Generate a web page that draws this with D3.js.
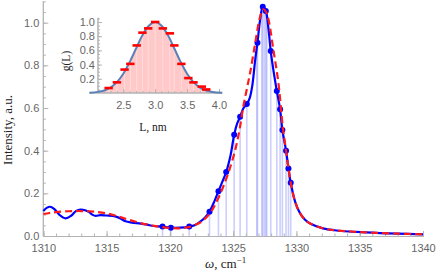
<!DOCTYPE html>
<html><head><meta charset="utf-8">
<script src="https://cdn.jsdelivr.net/npm/d3@7"></script>
<style>
html,body{margin:0;padding:0;background:#fff;}
svg{display:block;}
.tick text{font-family:"Liberation Sans",Arial,sans-serif;font-size:11px;fill:#666;}
</style></head>
<body><svg id="c" width="436" height="276"></svg>
<script>
// ---------- data ----------
const omegaTicks = [1310,1315,1320,1325,1330,1335,1340];
const intensityTicks = [0,0.2,0.4,0.6,0.8,1.0];

// experimental spectrum (blue solid)
const expOmega = [1310.0,1310.3,1310.55,1310.9,1311.3,1311.75,1312.2,1312.6,1312.95,1313.3,1313.6,1313.9,1314.15,1314.5,1315.0,1315.5,1316.0,1316.5,1317.0,1317.7,1318.2,1318.7,1319.42,1320.08,1320.8,1321.53,1322.0,1322.4,1322.8,1323.13,1323.5,1323.84,1324.15,1324.45,1324.8,1325.08,1325.3,1325.55,1325.8,1326.08,1326.3,1326.5,1326.74,1326.92,1327.13,1327.34,1327.58,1327.8,1327.97,1328.18,1328.45,1328.71,1328.89,1329.18,1329.37,1329.55,1329.9,1330.29,1330.7,1331.08,1332.1,1333.0,1335.5,1338.0,1340.0];
const expIntensity = [0.117,0.133,0.137,0.125,0.098,0.083,0.095,0.118,0.124,0.121,0.113,0.099,0.094,0.098,0.096,0.094,0.085,0.069,0.063,0.058,0.053,0.047,0.044,0.039,0.039,0.044,0.052,0.067,0.088,0.114,0.16,0.21,0.255,0.30,0.38,0.475,0.525,0.559,0.598,0.619,0.645,0.70,0.825,0.906,1.013,1.075,1.055,0.966,0.867,0.778,0.68,0.594,0.497,0.40,0.317,0.25,0.16,0.106,0.075,0.059,0.036,0.027,0.017,0.011,0.008];

// model fit (red dashed)
const fitOmega = [1310,1310.5,1311,1312,1313,1314,1315,1316,1317,1318,1319,1320,1320.55,1321,1321.6,1322,1322.4,1322.66,1323,1323.3,1323.6,1324.0,1324.4,1324.7,1325.16,1325.5,1325.8,1326.05,1326.34,1326.74,1327.13,1327.39,1327.6,1327.8,1328.18,1328.58,1328.92,1329.18,1329.37,1329.55,1329.9,1330.29,1330.7,1331.08,1332.1,1333,1335.5,1338,1340];
const fitIntensity = [0.103,0.108,0.112,0.116,0.117,0.114,0.106,0.09,0.072,0.056,0.045,0.038,0.036,0.037,0.043,0.052,0.063,0.075,0.095,0.118,0.15,0.2,0.26,0.31,0.403,0.497,0.606,0.68,0.765,0.903,1.028,1.063,1.05,1.013,0.872,0.716,0.512,0.40,0.32,0.25,0.16,0.106,0.075,0.059,0.036,0.027,0.017,0.011,0.008];

// sampled points (dots + stems)
const dotOmega = [1319.42,1320.08,1321.53,1323.13,1323.84,1324.45,1325.08,1325.55,1326.08,1326.92,1327.34,1327.58,1327.97,1328.45,1328.71,1328.89,1329.18,1329.37,1329.55];
const dotIntensity = [0.044,0.039,0.044,0.114,0.21,0.30,0.475,0.559,0.619,0.906,1.075,1.055,0.867,0.68,0.594,0.497,0.40,0.317,0.25];
const stemOnlyOmega = [1326.87,1327.26,1327.47,1327.66];
const stemOnlyIntensity = [0.885,1.06,1.072,1.03];

// inset: size distribution
const insetLTicks = [2.5,3.0,3.5,4.0];
const insetGTicks = [0.2,0.4,0.6,0.8,1.0];
const curveL = [1.97,2.1,2.2,2.3,2.4,2.5,2.6,2.7,2.8,2.9,3.0,3.1,3.2,3.3,3.4,3.5,3.6,3.7,3.8,3.9,4.05];
const curveG = [0.005,0.016,0.035,0.077,0.153,0.272,0.435,0.626,0.812,0.948,1.0,0.948,0.812,0.626,0.435,0.272,0.153,0.077,0.035,0.014,0.003];
const binL = [2.27,2.40,2.52,2.61,2.71,2.80,2.89,3.00,3.12,3.23,3.30,3.41,3.52,3.60,3.73,3.80];
const binG = [0.07,0.15,0.33,0.41,0.67,0.85,0.91,1.00,0.91,0.84,0.67,0.41,0.21,0.15,0.09,0.05];

// ---------- drawing ----------
const svg = d3.select("#c");
const x = d3.scaleLinear().domain([1310,1340]).range([43.3,423]);
const y = d3.scaleLinear().domain([0,1]).range([236,22.7]);
const axisCol = "#b3b3b3";

function styleAxis(g){
  g.selectAll("path.domain").attr("stroke",axisCol).attr("stroke-width",1);
  g.selectAll(".tick line").attr("stroke",axisCol);
}

// stems
const stems = dotOmega.map((w,i)=>[w,dotIntensity[i]]).concat(stemOnlyOmega.map((w,i)=>[w,stemOnlyIntensity[i]]));
svg.append("g").selectAll("line").data(stems).join("line")
  .attr("x1",d=>x(d[0])).attr("x2",d=>x(d[0]))
  .attr("y1",y(0)).attr("y2",d=>y(d[1]))
  .attr("stroke","rgba(120,130,250,0.38)").attr("stroke-width",1.6);

// axes main
const gx = svg.append("g").attr("transform",`translate(0,${y(0)})`);
gx.append("g").call(d3.axisBottom(x).tickValues(d3.range(1310,1341,1)).tickSize(-2.5).tickFormat("")).call(styleAxis);
gx.append("g").call(d3.axisBottom(x).tickValues(omegaTicks).tickSize(-5).tickPadding(8).tickFormat(d3.format("d"))).call(styleAxis);

const gy = svg.append("g").attr("transform",`translate(${x(1310)},0)`);
const yTop = 1.1;
gy.append("g").call(d3.axisLeft(y.copy().domain([0,yTop]).range([236,236-213.3*yTop])).tickValues(d3.range(0,1.101,0.05)).tickSize(-2.5).tickFormat("")).call(styleAxis);
gy.append("g").call(d3.axisLeft(y).tickValues(intensityTicks).tickSize(-5).tickPadding(4).tickFormat(d3.format(".1f"))).call(styleAxis);
gy.selectAll("path.domain").attr("d",`M0,${y(0)}V${y(yTop)}`);

// curves
const line = d3.line().x(d=>x(d[0])).y(d=>y(d[1])).curve(d3.curveCatmullRom.alpha(0.5));
svg.append("path").datum(expOmega.map((w,i)=>[w,expIntensity[i]]))
  .attr("d",line).attr("fill","none").attr("stroke","#0000ff").attr("stroke-width",2.2);
svg.append("g").selectAll("circle").data(dotOmega.map((w,i)=>[w,dotIntensity[i]])).join("circle")
  .attr("cx",d=>x(d[0])).attr("cy",d=>y(d[1])).attr("r",3).attr("fill","#0000ff");
svg.append("path").datum(fitOmega.map((w,i)=>[w,fitIntensity[i]]))
  .attr("d",line).attr("fill","none").attr("stroke","#ff1a1a").attr("stroke-width",2.2)
  .attr("stroke-dasharray","7,4");

// axis titles
svg.append("text").attr("transform","translate(12,130) rotate(-90)")
  .attr("text-anchor","middle").attr("font-family","'Liberation Serif','Times New Roman',serif")
  .attr("font-size",13).attr("fill","#222").text("Intensity, a.u.");
const xt = svg.append("text").attr("x",205).attr("y",268)
  .attr("font-family","'Liberation Serif','Times New Roman',serif").attr("font-size",13).attr("fill","#222");
xt.append("tspan").attr("font-style","italic").text("ω");
xt.append("tspan").text(", cm");
xt.append("tspan").attr("font-size",9).attr("dy",-5).text("−1");

// ---------- inset ----------
const ix = d3.scaleLinear().domain([2,4]).range([91.4,219]);
const iy = d3.scaleLinear().domain([0,1]).range([93,22]);
const pts = curveL.map((l,i)=>[l,curveG[i]]);
svg.append("path").datum(pts)
  .attr("d",d3.area().x(d=>ix(d[0])).y0(iy(0)).y1(d=>iy(d[1])).curve(d3.curveCatmullRom.alpha(0.5)))
  .attr("fill","#ffc9c9");
svg.append("g").selectAll("line").data(binL).join("line")
  .attr("x1",d=>ix(d)).attr("x2",d=>ix(d)).attr("y1",iy(0)).attr("y2",(d,i)=>iy(binG[i]))
  .attr("stroke","rgba(255,255,255,0.35)").attr("stroke-width",1);

const igx = svg.append("g").attr("transform",`translate(0,${iy(0)})`);
igx.append("g").call(d3.axisBottom(ix).tickValues(d3.range(2.1,4.01,0.1)).tickSize(-2).tickFormat("")).call(styleAxis);
igx.append("g").call(d3.axisBottom(ix).tickValues(insetLTicks).tickSize(-4).tickPadding(8).tickFormat(d3.format(".1f"))).call(styleAxis);
igx.selectAll("path.domain").attr("d",`M${ix(1.97)},0H${ix(4.05)}`);
const igy = svg.append("g").attr("transform",`translate(${ix(2.103)},0)`);
igy.append("g").call(d3.axisLeft(iy).tickValues(d3.range(0.05,1.051,0.05)).tickSize(-2).tickFormat("")).call(styleAxis);
igy.append("g").call(d3.axisLeft(iy).tickValues(insetGTicks).tickSize(-4).tickPadding(3).tickFormat(d3.format(".1f"))).call(styleAxis);
igy.selectAll("path.domain").attr("d",`M0,${iy(0)}V${iy(1.06)}`);

svg.append("path").datum(pts)
  .attr("d",d3.line().x(d=>ix(d[0])).y(d=>iy(d[1])).curve(d3.curveCatmullRom.alpha(0.5)))
  .attr("fill","none").attr("stroke","#5b80b8").attr("stroke-width",2);
svg.append("g").selectAll("line").data(binL).join("line")
  .attr("x1",d=>ix(d)-4.2).attr("x2",d=>ix(d)+4.2)
  .attr("y1",(d,i)=>iy(binG[i])).attr("y2",(d,i)=>iy(binG[i]))
  .attr("stroke","#ff0000").attr("stroke-width",2.6);

svg.append("text").attr("transform","translate(70,61) rotate(-90)")
  .attr("text-anchor","middle").attr("font-family","'Liberation Serif','Times New Roman',serif")
  .attr("font-size",11.5).attr("fill","#222").text("g(L)");
svg.append("text").attr("x",153).attr("y",131).attr("text-anchor","middle")
  .attr("font-family","'Liberation Serif','Times New Roman',serif")
  .attr("font-size",11.5).attr("fill","#222").text("L, nm");
</script></body></html>
